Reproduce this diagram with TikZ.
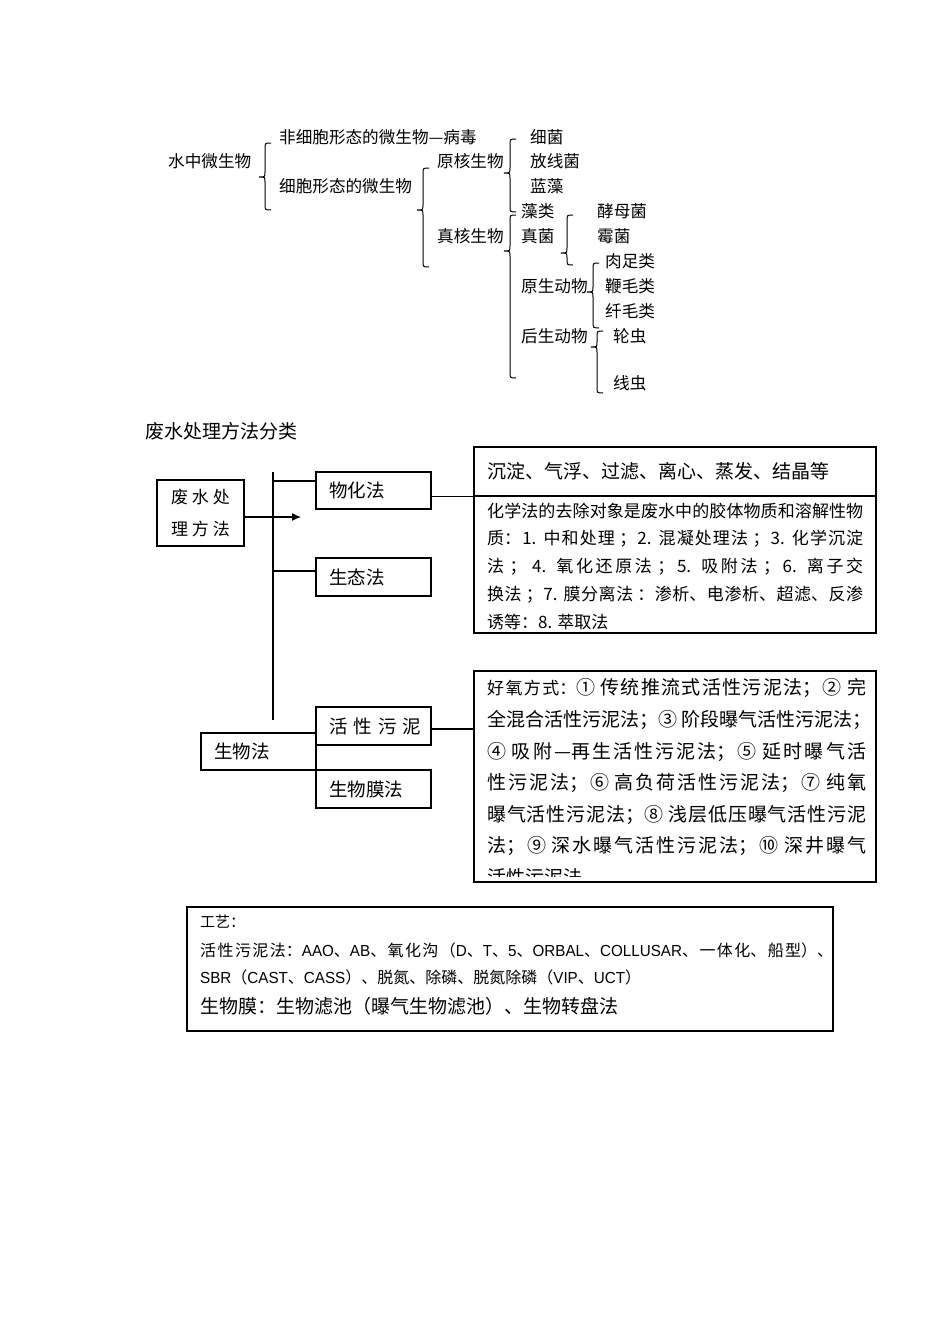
\documentclass[tikz,border=0pt]{standalone}
\usepackage{fontspec}
\setmainfont{Noto Sans CJK SC}
\newfontfamily\tightlatin[FakeStretch=0.95]{Liberation Sans}
\usetikzlibrary{arrows.meta}
\XeTeXlinebreaklocale "zh"
\XeTeXlinebreakskip=0pt plus 3pt
\tikzstyle{term} = [anchor=west, inner sep=0pt, font=\fontsize{16.6pt}{20pt}\selectfont]
\tikzstyle{method} = [rectangle, draw=black, line width=1.2pt, minimum height=37pt, text width=89pt, inner xsep=13pt, inner ysep=0pt, align=left, font=\fontsize{18.5pt}{22pt}\selectfont]
\tikzstyle{panel} = [rectangle, draw=black, line width=1.2pt, inner sep=0pt]
\tikzstyle{para} = [anchor=north west, inner sep=0pt, align=justify]
\tikzstyle{link} = [line width=1.2pt]
\tikzstyle{arrow} = [line width=1.2pt, -{Latex[length=9pt,width=8pt]}]
\tikzstyle{brc} = [line width=1pt]
\newcommand{\curly}[4]{\draw[brc] (#1+6,#2) .. controls (#1,#2) .. (#1,#2+6) -- (#1,#3-5) .. controls (#1,#3) .. (#1-6,#3) .. controls (#1,#3) .. (#1,#3+5) -- (#1,#4-6) .. controls (#1,#4) .. (#1+6,#4);}
\newcommand{\lat}[1]{{\tightlatin #1}}
\begin{document}
\begin{tikzpicture}[x=1pt,y=-1pt]
\useasboundingbox (0,0) rectangle (950,1344);

\node (water) [term] at (168,161) {水中微生物};
\node (noncell) [term] at (279,137) {非细胞形态的微生物—病毒};
\node (cell) [term] at (279,186) {细胞形态的微生物};
\node (prok) [term] at (437,161) {原核生物};
\node (euk) [term] at (437,236) {真核生物};
\node (bact) [term] at (530,137) {细菌};
\node (actino) [term] at (530,161) {放线菌};
\node (cyano) [term] at (530,186) {蓝藻};
\node (algae) [term] at (521,211) {藻类};
\node (fungi) [term] at (521,236) {真菌};
\node (yeast) [term] at (597,211) {酵母菌};
\node (mold) [term] at (597,236) {霉菌};
\node (proto) [term] at (521,286) {原生动物};
\node (meta) [term] at (521,336) {后生动物};
\node (sarco) [term] at (605,261) {肉足类};
\node (flag) [term] at (605,286) {鞭毛类};
\node (cili) [term] at (605,311) {纤毛类};
\node (roti) [term] at (613,336) {轮虫};
\node (nema) [term] at (613,383) {线虫};

\curly{265}{143}{177}{210}
\curly{423}{168}{210}{267}
\curly{510}{139}{173}{212}
\curly{510}{215}{251}{378}
\curly{567}{215}{253}{265}
\curly{593}{263}{292}{328}
\curly{597}{331}{347}{393}

\node (title) [term, font=\fontsize{19pt}{22pt}\selectfont] at (145,431) {废水处理方法分类};

\node (fangfa) [panel, minimum width=87pt, minimum height=66pt, align=center, font=\fontsize{17pt}{32pt}\selectfont] at (200.5,513) {废\hspace{4pt}水\hspace{4pt}处\\理\hspace{4pt}方\hspace{4pt}法};
\node (wuhua) [method] at (373.5,490.5) {物化法};
\node (shengtai) [method, minimum height=38pt] at (373.5,577) {生态法};
\node (shengwu) [method] at (258.5,751.5) {生物法};
\node (huoxing) [method, minimum height=38pt] at (373.5,726) {\mbox{活 性 污 泥}};
\node (mofa) [method, minimum height=38pt] at (373.5,789) {生物膜法};

\node (phys) [panel, minimum width=402pt, minimum height=49pt, text width=376pt, inner xsep=13pt, align=left, font=\fontsize{19pt}{22pt}\selectfont] at (675,471.5) {\mbox{沉淀、气浮、过滤、离心、蒸发、结晶等}};
\node (chem) [panel, minimum width=402pt, minimum height=137pt] at (675,564.5) {};
\node (aerobic) [panel, minimum width=402pt, minimum height=211pt] at (675,776.5) {};

\begin{scope}
\clip (chem.north west) rectangle (chem.south east);
\node (chemtext) [para, text width=376pt, font=\fontsize{17pt}{27.75pt}\selectfont] at (487,502.5) {化学法的去除对象是废水中的胶体物质和溶解性物\linebreak
质：1. 中和处理 ；2. 混凝处理法 ；3. 化学沉淀\linebreak
法 ； 4. 氧化还原法 ；5. 吸附法 ；6. 离子交\linebreak
换法 ；7. 膜分离法 ：渗析、电渗析、超滤、反渗\linebreak
诱等：8. 萃取法};
\end{scope}

\begin{scope}
\clip (aerobic.north west) rectangle ([yshift=6pt]aerobic.south east);
\node (aerotext) [para, text width=379pt, font=\fontsize{19pt}{31.6pt}\selectfont] at (487,678.5) {{\fontsize{17pt}{31.6pt}\selectfont 好氧方式：}① 传统推流式活性污泥法；② 完\linebreak
\mbox{全混合活性污泥法；③ 阶段曝气活性污泥法；}\linebreak
④ 吸附—再生活性污泥法；⑤ 延时曝气活\linebreak
性污泥法；⑥ 高负荷活性污泥法；⑦ 纯氧\linebreak
曝气活性污泥法；⑧ 浅层低压曝气活性污泥\linebreak
法；⑨ 深水曝气活性污泥法；⑩ 深井曝气\linebreak
活性污泥法};
\end{scope}

\coordinate (trunktop) at (273,472);
\coordinate (trunkbot) at (273,720);
\coordinate (arrowtip) at (301,517);
\draw [link] (trunktop) -- (trunkbot);
\draw [link] ([yshift=9.5pt]wuhua.west) -- ([yshift=9.5pt]wuhua.west -| trunktop);
\draw [link] ([yshift=6pt]shengtai.west) -- ([yshift=6pt]shengtai.west -| trunktop);
\draw [arrow] ([yshift=-4pt]fangfa.east) -- ([yshift=-4pt]fangfa.east -| arrowtip);
\draw [link] (phys.south west) -- (phys.south west -| wuhua.east);
\draw [link] ([yshift=-3pt]huoxing.east) -- ([yshift=-3pt]huoxing.east -| aerobic.west);

\node (craft) [panel, minimum width=646pt, minimum height=124pt] at (510,969) {};
\node (craft1) [term, font=\fontsize{15pt}{18pt}\selectfont] at (200,922) {工艺：};
\node (craft2) [term, text width=633pt, align=justify, font=\fontsize{16pt}{18pt}\selectfont] at (200,950) {\parfillskip=0pt 活性污泥法：\lat{AAO}、\lat{AB}、氧化沟（\lat{D}、\lat{T}、\lat{5}、\lat{ORBAL}、\lat{COLLUSAR}、一体化、船型）、\par};
\node (craft3) [term, font=\fontsize{16pt}{18pt}\selectfont] at (200,977) {\lat{SBR}（\lat{CAST}、\lat{CASS}）、脱氮、除磷、脱氮除磷（\lat{VIP}、\lat{UCT}）};
\node (craft4) [term, font=\fontsize{19pt}{22pt}\selectfont] at (200,1006) {生物膜：生物滤池（曝气生物滤池）、生物转盘法};

\end{tikzpicture}
\end{document}
